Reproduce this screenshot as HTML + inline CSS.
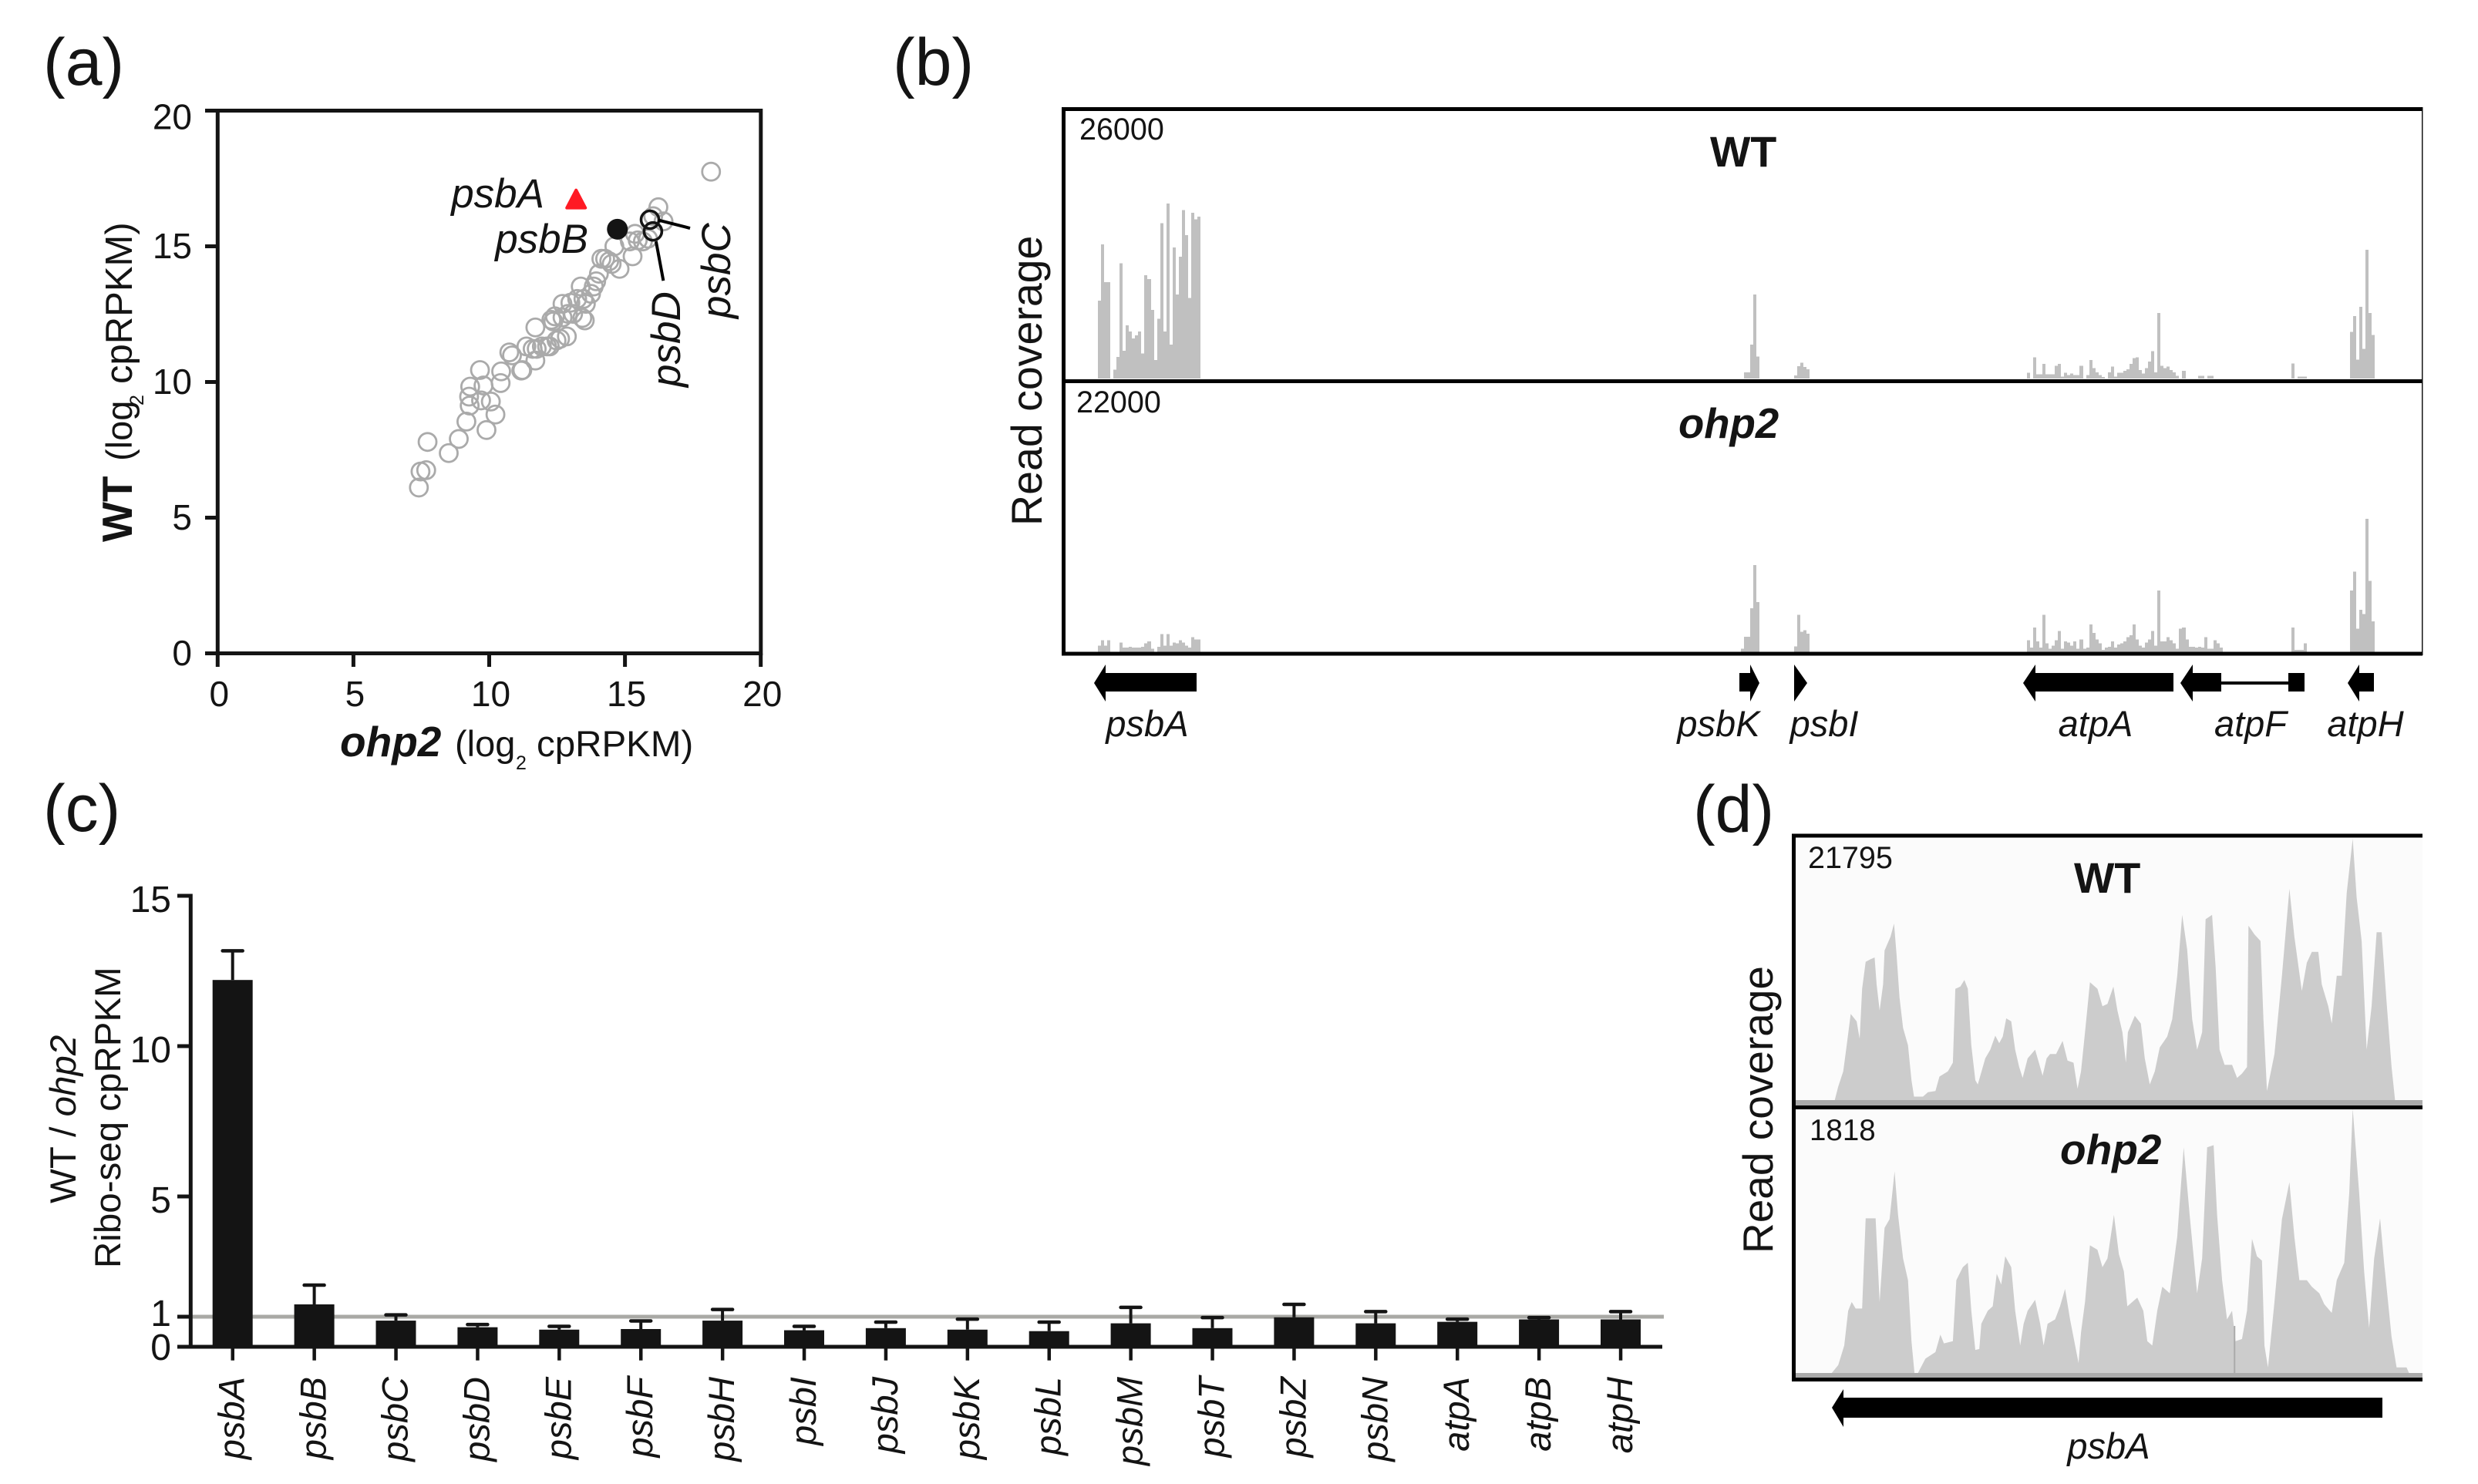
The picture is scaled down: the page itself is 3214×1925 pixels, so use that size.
<!DOCTYPE html>
<html lang="en">
<head>
<meta charset="utf-8">
<title>Ribo-seq figure panels a to d</title>
<style>
html,body{margin:0;padding:0;background:#fff}
svg{display:block}
text{font-family:"Liberation Sans",sans-serif;fill:#141414}
.it{font-style:italic}
.bd{font-weight:bold}
</style>
</head>
<body>
<svg id="fig" xmlns="http://www.w3.org/2000/svg" width="3214" height="1925" viewBox="0 0 3214 1925">
  <rect x="0" y="0" width="3214" height="1925" fill="#fff"/>

  <text x="56" y="110" font-size="86">(a)</text>
  <text x="1158" y="110" font-size="86">(b)</text>
  <text x="56" y="1078" font-size="86">(c)</text>
  <text x="2196" y="1079" font-size="86">(d)</text>

  <!-- panel a -->
  <g id="panelA">
    <rect x="282.3" y="143.5" width="704.5" height="704" fill="none" stroke="#141414" stroke-width="5"/>
    <g id="aTicks"></g>
    <g id="aPoints"></g>
    <g id="aHighlights"></g>
    <text class="it" x="706" y="269" font-size="53" text-anchor="end">psbA</text>
    <text class="it" x="763" y="328" font-size="53" text-anchor="end">psbB</text>
    <text class="it" transform="translate(947,413) rotate(-90)" font-size="53">psbC</text>
    <text class="it" transform="translate(882,502) rotate(-90)" font-size="53">psbD</text>
    <text class="it bd" x="441" y="981" font-size="55">ohp2</text>
    <text x="590" y="981" font-size="47">(log</text>
    <text x="669" y="998" font-size="25" fill="#444">2</text>
    <text x="696" y="981" font-size="47.5">cpRPKM)</text>
    <text class="bd" transform="translate(171,703) rotate(-90)" font-size="55">WT</text>
    <text transform="translate(171,598) rotate(-90)" font-size="47">(log</text>
    <text transform="translate(186,526) rotate(-90)" font-size="25" fill="#444">2</text>
    <text transform="translate(171,498) rotate(-90)" font-size="49">cpRPKM)</text>
  </g>

  <!-- panel b -->
  <g id="panelB">
    <g id="bBars" shape-rendering="crispEdges"></g>
    <rect x="3141" y="139" width="1.5" height="711" fill="#141414"/>
    <rect x="1377" y="139" width="1765" height="5" fill="#000"/>
    <rect x="1377" y="492" width="1765" height="5" fill="#000"/>
    <rect x="1377" y="845.5" width="1765" height="5" fill="#000"/>
    <rect x="1377" y="139" width="5" height="711.5" fill="#000"/>
    <text x="1400" y="181" font-size="39.5">26000</text>
    <text x="1396" y="535" font-size="39.5">22000</text>
    <text class="bd" x="2218" y="216" font-size="55.5">WT</text>
    <text class="bd it" x="2177" y="568" font-size="54.5">ohp2</text>
    <text transform="translate(1351,682) rotate(-90)" font-size="55.5">Read coverage</text>
    <g fill="#000">
      <polygon points="1419,886 1434,862 1434,873 1552,873 1552,897 1434,897 1434,910"/>
      <polygon points="2282,886 2270,862 2270,873 2256,873 2256,897 2270,897 2270,910"/>
      <polygon points="2344,886 2327,862 2327,910"/>
      <polygon points="2624,886 2640,862 2640,873 2819,873 2819,897 2640,897 2640,910"/>
      <polygon points="2828,886 2844,862 2844,873 2881,873 2881,897 2844,897 2844,910"/>
      <rect x="2881" y="884" width="87" height="4"/>
      <rect x="2968" y="873" width="21" height="24"/>
      <polygon points="3045,886 3060,862 3060,873 3079,873 3079,897 3060,897 3060,910"/>
    </g>
    <g class="it" font-size="47" text-anchor="middle">
      <text x="1488" y="955">psbA</text>
      <text x="2229" y="955">psbK</text>
      <text x="2366" y="955">psbI</text>
      <text x="2718" y="955">atpA</text>
      <text x="2919" y="955">atpF</text>
      <text x="3068" y="955">atpH</text>
    </g>
  </g>

  <!-- panel c -->
  <g id="panelC">
    <g id="cTicks"></g>
    <g id="cBars"></g>
    <text transform="translate(98,1561) rotate(-90)" font-size="47.5">WT / <tspan class="it">ohp2</tspan></text>
    <text transform="translate(156,1645) rotate(-90)" font-size="47.5">Ribo-seq cpRPKM</text>
  </g>

  <!-- panel d -->
  <g id="panelD">
    <rect x="2326" y="1084" width="816" height="350" fill="#fbfbfb"/>
    <rect x="2326" y="1436" width="816" height="352" fill="#fbfbfb"/>
    <g id="dAreas"></g>
    <rect x="2326" y="1427" width="816" height="7" fill="#aaa"/>
    <rect x="2326" y="1781" width="816" height="7" fill="#aaa"/>
    <rect x="2324" y="1081.5" width="818" height="5" fill="#000"/>
    <rect x="2324" y="1434" width="818" height="5" fill="#000"/>
    <rect x="2324" y="1787" width="818" height="5" fill="#000"/>
    <rect x="2324" y="1081.5" width="5" height="710.5" fill="#000"/>
    <text x="2345" y="1126" font-size="39.5">21795</text>
    <text x="2347" y="1479" font-size="38.5">1818</text>
    <text class="bd" x="2690" y="1158" font-size="55.5">WT</text>
    <text class="bd it" x="2672" y="1510" font-size="55">ohp2</text>
    <text transform="translate(2299,1626) rotate(-90)" font-size="55">Read coverage</text>
    <polygon fill="#000" points="2376,1826 2391,1802 2391,1813 3090,1813 3090,1839 2391,1839 2391,1851"/>
    <text class="it" x="2735" y="1892" font-size="47" text-anchor="middle">psbA</text>
  </g>
</svg>

<script>
// ---------- panel a data ----------
const aOhp2 = [7.41,7.47,7.68,7.73,8.51,8.88,9.16,9.28,9.26,9.30,9.66,9.70,9.79,10.06,10.23,9.90,10.42,10.44,10.74,10.84,11.18,11.22,11.37,11.6,11.7,11.7,11.75,11.94,12.13,12.23,12.29,12.42,12.36,12.48,12.61,12.86,12.70,12.70,12.90,12.99,13.09,13.24,13.37,13.43,13.52,13.47,13.56,13.75,13.85,13.94,14.04,14.13,14.27,14.42,14.61,14.51,14.8,15.28,15.37,15.66,15.85,16.04,16.23,16.42,15.47,15.18,18.17];
const aWT   = [6.11,6.70,6.75,7.79,7.38,7.90,8.54,9.13,9.46,9.83,10.44,9.32,9.87,9.28,8.80,8.23,9.96,10.39,11.09,10.98,10.42,10.44,11.31,11.22,12.01,10.79,11.22,11.31,11.31,11.31,12.29,12.42,12.23,11.53,11.59,11.68,12.88,12.38,12.51,12.92,12.51,13.06,13.52,12.36,12.27,13.06,12.88,13.25,13.52,13.71,13.99,14.54,14.54,14.45,15.0,14.35,14.17,14.63,15.46,15.18,15.28,16.11,16.44,15.92,15.22,15.18,17.75];
const aTicks = [0,5,10,15,20];
const psbAPoint = [13.2,16.7];
const psbBPoint = [14.72,15.63];
const psbCPoint = [15.92,15.98];
const psbDPoint = [16.03,15.55];

// ---------- panel b data (relative coverage per bin, track max = 633) ----------
const bRegionNames = ['psbA','psbK','psbI','atpA','atpF','atpH'];
const bRegionStartBins = [0,207,224,299,384,403];
const bWtPsbA = [184,317,228,228,0,21,51,273,66,126,111,95,102,111,59,244,235,162,44,141,368,111,414,80,310,199,288,399,339,191,392,377,383];
const bOhpPsbA = [15,28,15,28,0,0,0,22,10,10,12,10,10,10,12,20,25,8,0,12,42,15,42,15,22,20,28,22,15,10,35,30,30];
const bWtPsbK = [0,15,15,80,199,52];
const bOhpPsbK = [8,36,36,103,206,118];
const bWtPsbI = [7,29,37,27,22];
const bOhpPsbI = [13,88,48,51,43];
const bWtAtpA = [14,0,50,10,10,35,10,10,10,30,35,5,14,8,12,8,8,30,0,8,44,25,15,8,4,0,15,28,5,14,14,18,22,35,48,50,20,12,25,40,65,15,155,30,25,28,20,15,6,0,18,0,0,0,0,6,6,0,6,6];
const bOhpAtpA = [28,10,58,25,10,88,20,8,15,28,50,8,25,22,15,25,8,30,8,10,65,45,30,20,5,10,12,25,10,18,20,25,35,40,65,30,15,10,22,30,50,15,145,25,25,35,28,20,8,55,58,30,12,12,10,12,10,35,8,8,28,20,10];
const bWtAtpF = [36,0,5,5,5];
const bOhpAtpF = [58,5,5,5,20];
const bWtAtpH = [110,148,45,170,70,305,155,103];
const bOhpAtpH = [145,190,55,100,90,315,168,72];
const bWtSeries = [bWtPsbA,bWtPsbK,bWtPsbI,bWtAtpA,bWtAtpF,bWtAtpH];
const bOhpSeries = [bOhpPsbA,bOhpPsbK,bOhpPsbI,bOhpAtpA,bOhpAtpF,bOhpAtpH];
const bTrackMax = 633;

// ---------- panel c data ----------
const cGenes = ['psbA','psbB','psbC','psbD','psbE','psbF','psbH','psbI','psbJ','psbK','psbL','psbM','psbT','psbZ','psbN','atpA','atpB','atpH'];
const cRatios = [12.2,1.41,0.87,0.65,0.57,0.59,0.87,0.55,0.62,0.57,0.52,0.78,0.62,0.98,0.78,0.83,0.91,0.91];
const cErrTops = [13.17,2.05,1.06,0.74,0.68,0.86,1.24,0.68,0.82,0.92,0.82,1.31,0.97,1.41,1.17,0.92,0.97,1.17];
const cTicks = [0,1,5,10,15];
const cRefValue = 1;

// ---------- panel d data (relative coverage along psbA) ----------
const dWtPos = [278,285,295,302,310,322,328,333,340,350,358,362,368,375,378,390,397,402,408,415,425,432,437,455,465,480,488,505,515,520,530,538,545,552,560,565,570,580,590,600,608,615,622,632,640,648,655,665,680,695,703,710,722,735,745,757,765,772,780,790,805,815,825,837,845,855,862,866,880,892,900,910,920,930,945,955,965,975,985,995,1005,1015,1022,1035,1042,1050,1060,1075,1085,1095,1105,1108,1120,1132,1138,1145,1160,1175,1190,1200,1215,1225,1235,1248,1255,1268,1275,1285,1295,1305,1317,1325,1335,1345,1355,1365,1375,1385,1395,1402];
const dWtCov = [0,31,66,126,198,181,141,256,318,324,328,266,206,266,344,376,406,336,236,166,126,46,8,8,18,21,54,66,86,256,261,276,256,126,46,36,56,96,116,148,131,146,188,181,116,76,51,96,116,56,96,106,106,136,91,86,26,66,156,271,256,216,221,261,206,156,86,156,194,176,96,36,66,121,146,186,286,426,346,186,116,156,416,426,306,116,81,81,51,61,76,401,381,366,186,21,106,286,486,376,251,316,341,341,266,216,176,286,286,476,601,466,366,116,216,386,386,226,76,0];
const dOhpPos = [272,285,297,305,312,320,333,340,360,368,378,388,398,405,415,425,432,438,445,460,480,490,497,515,522,535,545,552,560,568,572,585,595,603,612,620,632,640,650,657,665,680,690,697,705,720,730,740,750,762,767,772,780,790,805,815,825,838,848,858,865,885,897,905,915,925,935,950,965,978,990,1005,1015,1025,1038,1045,1055,1065,1075,1082,1095,1105,1115,1125,1135,1140,1147,1160,1175,1190,1200,1210,1225,1235,1250,1260,1275,1285,1300,1310,1317,1330,1340,1350,1360,1372,1380,1395,1405,1425,1430];
const dOhpCov = [0,18,63,143,163,148,148,355,355,163,333,353,463,363,263,213,73,0,0,33,48,88,68,73,213,243,253,143,53,55,113,143,153,228,203,268,243,143,63,113,143,168,113,63,113,123,153,193,123,53,23,93,163,293,283,243,263,363,273,233,153,173,143,73,63,143,198,183,313,518,363,183,263,518,523,363,213,123,143,73,78,143,308,268,258,63,13,163,353,438,313,213,213,198,183,158,138,213,253,413,607,413,233,103,263,355,253,83,13,13,0];
const dWtMax = 601;
const dOhpMax = 607;
const dOhpArtifactPos = [1080];
const dOhpArtifactCov = [108];

// ---------- helpers and scales ----------
const NS = 'http://www.w3.org/2000/svg';
function mk(tag, attrs, parent){
  const e = document.createElementNS(NS, tag);
  for (const k in attrs) e.setAttribute(k, attrs[k]);
  parent.appendChild(e);
  return e;
}
const INK = '#141414';
const aX = v => 282.3 + v * 35.22;
const aY = v => 847.5 - v * 35.2;
const bX = bin => 1424 + bin * 4.03;
const bH = v => v / bTrackMax * 347;
const cX = i => 301.7 + i * 105.9;
const cY = v => 1747 - v * 39;
const dX = p => 2326 + (p - 195) * (816 / 1262);

// ---------- panel a ----------
const aTickG = document.getElementById('aTicks');
aTicks.forEach(t => {
  const tx = mk('rect', {x: aX(t) - 2.5, y: 847.5, width: 5, height: 17.5, fill: INK}, aTickG);
  
  
  const ty = mk('rect', {x: 266, y: aY(t) - 2.5, width: 17, height: 5, fill: INK}, aTickG);
  
  
  const lx = mk('text', {x: aX(t) + 2, y: 916, 'font-size': 46, 'text-anchor': 'middle'}, aTickG);
  lx.textContent = t;
  
  
  const ly = mk('text', {x: 249, y: aY(t) + (t === 20 ? 24 : 15.5), 'font-size': 46, 'text-anchor': 'end'}, aTickG);
  ly.textContent = t;
  
  
});
const aPointG = document.getElementById('aPoints');
aOhp2.forEach((x, i) => {
  const c = mk('circle', {cx: aX(x), cy: aY(aWT[i]), r: 11.5, fill: 'none', stroke: '#aaa', 'stroke-width': 2.8}, aPointG);
  
  
});
const aHigh = document.getElementById('aHighlights');
const ax0 = aX(psbAPoint[0]), ay0 = aY(psbAPoint[1]);
const triA = mk('polygon', {points: (ax0) + ',' + (ay0 - 13) + ' ' + (ax0 + 12) + ',' + (ay0 + 10) + ' ' + (ax0 - 12) + ',' + (ay0 + 10), fill: '#ff1a24', stroke: '#ff1a24', 'stroke-width': 4, 'stroke-linejoin': 'round'}, aHigh);


const dotB = mk('circle', {cx: aX(psbBPoint[0]), cy: aY(psbBPoint[1]), r: 13.5, fill: INK}, aHigh);


const dotC = mk('circle', {cx: aX(psbCPoint[0]), cy: aY(psbCPoint[1]), r: 11.5, fill: 'none', stroke: INK, 'stroke-width': 3.6}, aHigh);


const dotD = mk('circle', {cx: aX(psbDPoint[0]), cy: aY(psbDPoint[1]), r: 11.5, fill: 'none', stroke: INK, 'stroke-width': 3.6}, aHigh);


const leadC = mk('line', {x1: aX(psbCPoint[0]) + 11, y1: aY(psbCPoint[1]) + 0.5, x2: aX(psbCPoint[0]) + 52, y2: aY(psbCPoint[1]) + 11, stroke: '#000', 'stroke-width': 4}, aHigh);


const leadD = mk('line', {x1: aX(psbDPoint[0]) + 4, y1: aY(psbDPoint[1]) + 13, x2: aX(psbDPoint[0]) + 13.5, y2: aY(psbDPoint[1]) + 64, stroke: '#000', 'stroke-width': 4}, aHigh);



// ---------- panel b ----------
const bG = document.getElementById('bBars');
function drawTrack(series, baseY, trackName){
  series.forEach((vals, r) => {
    vals.forEach((v, i) => {
      if (v <= 0) return;
      const h = bH(v);
      const x0 = Math.round(bX(bRegionStartBins[r] + i));
      const x1 = Math.round(bX(bRegionStartBins[r] + i + 1));
      const b = mk('rect', {x: x0, y: baseY - h, width: x1 - x0, height: h, fill: '#c0c0c0'}, bG);
      
      
    });
  });
}
drawTrack(bWtSeries, 491, 'wt');
drawTrack(bOhpSeries, 845.7, 'ohp2');

// ---------- panel c ----------
const cTickG = document.getElementById('cTicks');
const cBarG = document.getElementById('cBars');
const refLine = mk('rect', {x: 247, y: cY(cRefValue) - 2.5, width: 1911, height: 5, fill: '#a9a9a5'}, cTickG);


const yAxisC = mk('rect', {x: 244.8, y: cY(15) - 2.5, width: 5, height: cY(0) - cY(15) + 5, fill: INK}, cTickG);


const xAxisC = mk('rect', {x: 230, y: 1744.5, width: 1926, height: 5, fill: INK}, cTickG);


cTicks.forEach(t => {
  const m = mk('rect', {x: 230, y: cY(t) - 2.5, width: 17, height: 5, fill: INK}, cTickG);
  
  
  const dy = t === 1 ? 12 : (t === 0 ? 17 : 21);
  const l = mk('text', {x: 222, y: cY(t) + dy, 'font-size': 48, 'text-anchor': 'end'}, cTickG);
  l.textContent = t;
  
  
});
cGenes.forEach((g, i) => {
  const cx = cX(i);
  const stem = mk('line', {x1: cx, x2: cx, y1: cY(cRatios[i]), y2: cY(cErrTops[i]), stroke: INK, 'stroke-width': 4}, cBarG);
  
  
  const cap = mk('line', {x1: cx - 13, x2: cx + 13, y1: cY(cErrTops[i]), y2: cY(cErrTops[i]), stroke: INK, 'stroke-width': 4.5, 'stroke-linecap': 'round'}, cBarG);
  
  
  const bar = mk('rect', {x: cx - 26, y: cY(cRatios[i]), width: 52, height: cY(0) - cY(cRatios[i]), fill: INK}, cBarG);
  
  
  const tick = mk('rect', {x: cx - 2.2, y: 1747, width: 4.5, height: 17.7, fill: INK}, cBarG);
  
  
  const lab = mk('text', {transform: 'translate(' + (cx + 15) + ',1786) rotate(-90)', 'font-size': 47, 'font-style': 'italic', 'text-anchor': 'end'}, cBarG);
  lab.textContent = g;
  
  
});

// ---------- panel d ----------
const dG = document.getElementById('dAreas');
function areaPath(pos, cov, max, baseY, height){
  let s = 'M' + dX(pos[0]) + ',' + baseY;
  pos.forEach((p, i) => { s += ' L' + dX(p).toFixed(1) + ',' + (baseY - cov[i] / max * height).toFixed(1); });
  return s + ' L' + dX(pos[pos.length - 1]) + ',' + baseY + ' Z';
}
const wtArea = mk('path', {d: areaPath(dWtPos, dWtCov, dWtMax, 1427, 339), fill: '#cccccc'}, dG);


const ohpArea = mk('path', {d: areaPath(dOhpPos, dOhpCov, dOhpMax, 1781, 343), fill: '#cccccc'}, dG);


dOhpArtifactPos.forEach((p, i) => {
  const art = mk('line', {x1: dX(p), x2: dX(p), y1: 1781, y2: 1781 - dOhpArtifactCov[i] / dOhpMax * 343, stroke: '#aaa', 'stroke-width': 2}, dG);
  
  
});
</script>
</body>
</html>
